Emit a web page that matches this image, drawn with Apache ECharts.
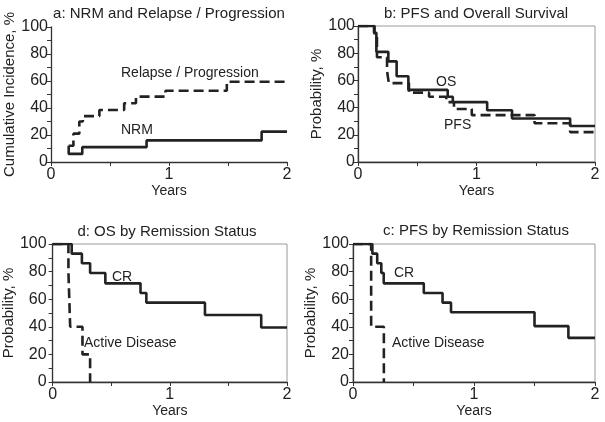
<!DOCTYPE html>
<html><head><meta charset="utf-8">
<script src="https://cdn.jsdelivr.net/npm/echarts@6/dist/echarts.min.js"></script>
<style>html,body{margin:0;padding:0;background:#fff}#c{width:605px;height:422px}</style>
</head><body><div id="c"></div>
<script>
// Panel a: NRM and Relapse / Progression (cumulative incidence, %)
const nrmYears = [0.15, 0.15, 0.265, 0.81, 1.785, 2.0];
const nrmPct   = [12, 6, 11, 16, 22.5, 22.5];
const relYears = [0.15, 0.19, 0.24, 0.27, 0.41, 0.62, 0.72, 0.97, 1.49, 2.0];
const relPct   = [12, 21, 30, 34, 38.5, 43.5, 48.4, 52.8, 59.5, 59.5];
// Panel b: PFS and Overall Survival
const osYears  = [0, 0.135, 0.155, 0.256, 0.326, 0.425, 0.757, 0.80, 1.09, 1.30, 1.79, 2.0];
const osPct    = [100, 95, 81, 74, 63, 53, 48, 44, 38, 32, 26.5, 26.5];
const pfsYears = [0, 0.14, 0.16, 0.245, 0.26, 0.43, 0.60, 0.745, 0.81, 0.96, 1.49, 1.79, 2.0];
const pfsPct   = [100, 92, 77, 67, 58, 51, 48, 44, 39, 34.5, 28.5, 22, 22];
// Panel d: OS by remission status
const dCrYears = [0, 0.163, 0.25, 0.32, 0.45, 0.75, 0.80, 1.30, 1.78, 2.0];
const dCrPct   = [100, 93, 86, 79, 71.5, 64.5, 57.5, 48.5, 39.5, 39.5];
const dAdYears = [0, 0.135, 0.15, 0.255, 0.32];
const dAdPct   = [100, 80, 40, 20, 0];
// Panel c: PFS by remission status
const cCrYears = [0, 0.16, 0.20, 0.234, 0.254, 0.585, 0.74, 0.81, 1.50, 1.78, 2.0];
const cCrPct   = [100, 93, 86, 79, 71.5, 64.5, 57.5, 50.5, 40.5, 32, 32];
const cAdYears = [0, 0.15, 0.255];
const cAdPct   = [100, 40, 0];

const xTicks = [0, 1, 2];
const yTicks = [0, 20, 40, 60, 80, 100];

const titles = ['a: NRM and Relapse / Progression', 'b: PFS and Overall Survival', 'd: OS by Remission Status', 'c: PFS by Remission Status'];
const yNames = ['Cumulative Incidence, %', 'Probability, %', 'Probability, %', 'Probability, %'];

const FONT = "'Liberation Sans', Arial, sans-serif";
const INK = '#222';

const grids = [
  {left: 51, top: 27, width: 236, height: 135, show: false},
  {left: 358, top: 26, width: 237, height: 136, show: true, borderColor: '#9a9a9a', borderWidth: 1},
  {left: 49, top: 244, width: 238, height: 138, show: true, borderColor: '#9a9a9a', borderWidth: 1},
  {left: 353, top: 244, width: 242, height: 138, show: true, borderColor: '#9a9a9a', borderWidth: 1}
];

const zip = (xs, ys) => xs.map((x, i) => [x, ys[i]]);

const xAxes = grids.map((g, i) => ({
  type: 'value', gridIndex: i, min: 0, max: 2, interval: 0.5,
  name: 'Years', nameLocation: 'middle', nameGap: 19,
  nameTextStyle: {fontFamily: FONT, fontSize: 14, color: INK},
  axisLine: {lineStyle: {color: '#333', width: 1.3}},
  axisTick: {show: true, length: 4, lineStyle: {color: '#333'}},
  axisLabel: {fontFamily: FONT, fontSize: 16, color: INK, margin: 5,
    formatter: v => xTicks.includes(v) ? String(v) : ''},
  splitLine: {show: false}
}));
const yAxes = grids.map((g, i) => ({
  type: 'value', gridIndex: i, min: 0, max: 100, interval: 10,
  name: yNames[i], nameLocation: 'middle', nameGap: [31, 30, 30, 28][i],
  nameTextStyle: {fontFamily: FONT, fontSize: 15, color: INK},
  axisLine: {show: true, lineStyle: {color: '#333', width: 1.3}},
  axisTick: {show: true, length: 4, lineStyle: {color: '#333'}},
  axisLabel: {fontFamily: FONT, fontSize: 16, color: INK, margin: [3, 3, 6, 4][i],
    formatter: v => yTicks.includes(v) ? String(v) : ''},
  splitLine: {show: false}
}));

function km(idx, data, dashed) {
  return {
    type: 'line', xAxisIndex: idx, yAxisIndex: idx, data: data, step: 'end',
    showSymbol: false, symbol: 'none', animation: false,
    lineStyle: {color: INK, width: 2.6, type: dashed ? [10, 5] : 'solid'}
  };
}

const series = [
  km(0, zip(nrmYears, nrmPct), false),
  km(0, zip(relYears, relPct), true),
  km(1, zip(pfsYears, pfsPct), true),
  km(1, zip(osYears, osPct), false),
  km(2, zip(dAdYears, dAdPct), true),
  km(2, zip(dCrYears, dCrPct), false),
  km(3, zip(cAdYears, cAdPct), true),
  km(3, zip(cCrYears, cCrPct), false)
];

function txt(text, x, y, size, align) {
  return {type: 'text', x: x, y: y, silent: true, z: 100,
    style: {text: text, fill: INK, font: size + 'px ' + FONT, textAlign: align || 'left', textVerticalAlign: 'middle'}};
}

const graphics = [
  txt(titles[0], 169, 14, 15, 'center'),
  txt(titles[1], 476, 14, 15, 'center'),
  txt(titles[2], 167, 232, 15, 'center'),
  txt(titles[3], 476, 231, 15, 'center'),
  txt('Relapse / Progression', 121, 73, 14),
  txt('NRM', 121, 130, 14),
  txt('OS', 436, 82, 14),
  txt('PFS', 444, 125, 14),
  txt('CR', 112, 277, 14),
  txt('Active Disease', 84, 343, 14),
  txt('CR', 394, 273, 14),
  txt('Active Disease', 392, 343, 14)
];

const chart = echarts.init(document.getElementById('c'), null, {renderer: 'canvas'});
chart.setOption({
  animation: false,
  backgroundColor: '#fff',
  grid: grids,
  xAxis: xAxes,
  yAxis: yAxes,
  series: series,
  graphic: graphics
});
</script>
</body></html>
